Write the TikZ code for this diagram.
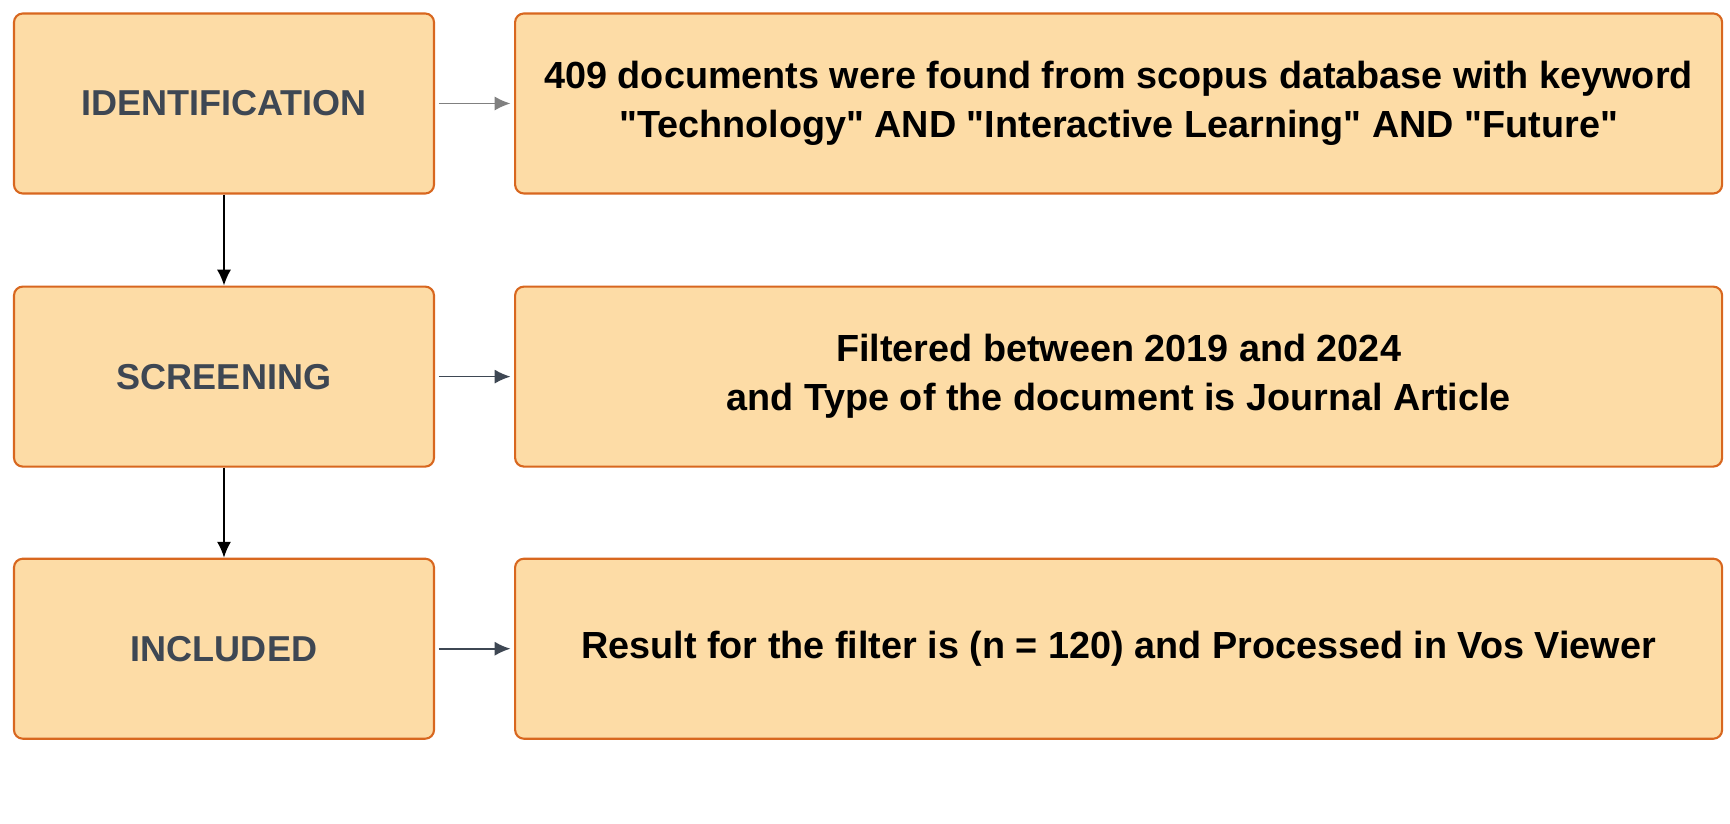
\documentclass[tikz,border=0pt]{standalone}
\usepackage{fontspec}
\setmainfont{Liberation Sans}
\usetikzlibrary{positioning, arrows.meta}
\definecolor{boxfill}{HTML}{FDDCA6}
\definecolor{boxline}{HTML}{D8671F}
\definecolor{stagetext}{HTML}{3E4753}
\newcommand{\q}{\textquotedbl}
\begin{document}
\begin{tikzpicture}
    \tikzset{
        stage/.style={draw=boxline, fill=boxfill, line width=1.2pt, rounded corners=5pt,
            minimum width=8.4cm, minimum height=3.6cm, font=\bfseries\fontsize{20.5}{24}\selectfont, text=stagetext},
        detail/.style={draw=boxline, fill=boxfill, line width=1.2pt, rounded corners=5pt,
            minimum width=24.14cm, minimum height=3.6cm, align=center, font=\bfseries\fontsize{21.5}{28}\selectfont},
        flow/.style={-{Latex[length=9pt,width=8pt]}, line width=1pt, draw=stagetext}
    }
    \useasboundingbox (0,0) rectangle (34.6,16.48);

    % Stage boxes
    \node[stage] (ident) at (4.48,14.41) {IDENTIFICATION};
    \node[stage, below=1.82cm of ident] (screen) {SCREENING};
    \node[stage, below=1.8cm of screen] (incl) {INCLUDED};

    % Detail boxes
    \node[detail, right=1.58cm of ident] (found) {409 documents were found from scopus database with keyword\\\q Technology\q{} AND \q Interactive Learning\q{} AND \q Future\q};
    \node[detail, right=1.58cm of screen] (filter) {Filtered between 2019 and 2024\\and Type of the document is Journal Article};
    \node[detail, right=1.58cm of incl] (result) {Result for the filter is (n = 120) and Processed in Vos Viewer};

    % Arrows
    \draw[flow, draw=gray] ([xshift=2pt]ident.east) -- ([xshift=-2pt]found.west);
    \draw[flow] ([xshift=2pt]screen.east) -- ([xshift=-2pt]filter.west);
    \draw[flow] ([xshift=2pt]incl.east) -- ([xshift=-2pt]result.west);
    \draw[flow, draw=black] (ident) -- (screen);
    \draw[flow, draw=black] (screen) -- (incl);
\end{tikzpicture}
\end{document}
